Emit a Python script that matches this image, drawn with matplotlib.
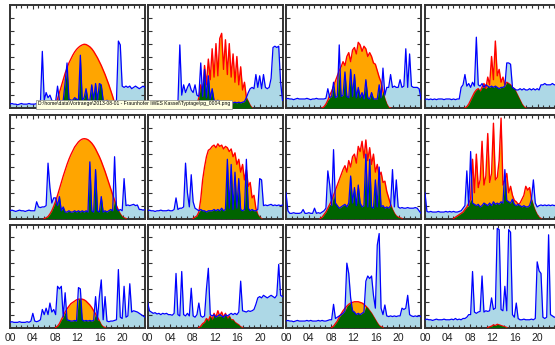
import matplotlib.pyplot as plt
import numpy as np

# time axis: 20-minute samples over one day
hours = np.linspace(0, 24, 72)
hour_ticks = [0, 4, 8, 12, 16, 20]
hour_labels = ["00", "04", "08", "12", "16", "20"]
tooltip = r"D:\home\data\Vortraege\2013-08-01 - Fraunhofer IWES Kassel\Typtage\pg_0004.png"

# household load (blue) and PV generation (orange) per day, arbitrary units 0..8
load_1 = [0.30, 0.35, 0.30, 0.30, 0.25, 0.30, 0.35, 0.30, 0.30, 0.30, 0.35, 0.30,
          0.30, 0.30, 0.35, 0.30, 0.40, 4.40, 0.60, 1.20, 0.80, 1.00, 0.60, 0.50,
          0.50, 1.70, 0.60, 0.50, 0.60, 2.00, 3.50, 0.70, 0.60, 0.60, 0.80, 0.70,
          0.60, 4.10, 0.60, 0.80, 1.50, 0.60, 0.60, 1.80, 0.60, 1.90, 0.60, 1.90,
          1.80, 0.60, 0.50, 0.60, 0.50, 0.50, 0.50, 0.50, 0.60, 5.20, 4.90, 1.70,
          1.60, 1.70, 1.60, 1.70, 1.50, 1.60, 1.70, 1.60, 1.50, 1.60, 1.70, 1.60]
pv_1 = [0, 0, 0, 0, 0, 0, 0, 0, 0, 0, 0, 0,
        0, 0, 0, 0, 0, 0, 0, 0, 0, 0, 0, 0.10,
        0.30, 0.70, 1.20, 1.70, 2.20, 2.70, 3.10, 3.50, 3.80, 4.10, 4.35, 4.55,
        4.70, 4.82, 4.90, 4.95, 4.93, 4.85, 4.75, 4.60, 4.40, 4.15, 3.90, 3.60,
        3.30, 2.95, 2.60, 2.20, 1.80, 1.35, 0.90, 0.40, 0.05, 0, 0, 0,
        0, 0, 0, 0, 0, 0, 0, 0, 0, 0, 0, 0]

load_2 = [0.40, 0.45, 0.40, 0.35, 0.40, 0.45, 0.40, 0.40, 0.35, 0.40, 0.45, 0.40,
          0.40, 0.35, 0.40, 0.45, 0.40, 4.90, 1.00, 1.80, 1.20, 1.60, 1.90, 1.40,
          1.20, 1.80, 1.00, 0.90, 3.50, 0.90, 3.00, 0.80, 2.50, 0.70, 1.50, 0.60,
          0.50, 0.60, 0.50, 0.45, 0.50, 0.40, 0.45, 0.40, 0.45, 0.40, 0.45, 0.40,
          0.45, 0.40, 0.45, 0.50, 0.80, 1.20, 1.50, 1.60, 1.50, 2.60, 1.60, 2.50,
          1.50, 2.60, 1.60, 1.50, 1.60, 2.30, 4.70, 4.80, 4.70, 4.80, 2.00, 0.60]
pv_2 = [0, 0, 0, 0, 0, 0, 0, 0, 0, 0, 0, 0,
        0, 0, 0, 0, 0, 0, 0, 0, 0, 0, 0, 0,
        0, 0.10, 0.30, 0.80, 1.80, 1.00, 3.30, 1.80, 3.80, 2.20, 4.60, 2.40,
        5.00, 2.50, 5.40, 5.80, 3.00, 5.30, 2.60, 5.00, 2.40, 4.20, 2.00, 4.00,
        1.80, 3.20, 1.40, 2.00, 0.80, 0.50, 0.20, 0, 0, 0, 0, 0,
        0, 0, 0, 0, 0, 0, 0, 0, 0, 0, 0, 0]

load_3 = [0.70, 0.75, 0.70, 0.70, 0.65, 0.70, 0.75, 0.70, 0.70, 0.70, 0.70, 0.75,
          0.70, 0.65, 0.70, 0.70, 0.75, 0.70, 0.70, 0.70, 0.70, 0.75, 1.50, 0.80,
          0.90, 2.00, 0.80, 0.90, 4.90, 0.90, 1.00, 2.80, 0.90, 0.80, 3.00, 0.90,
          2.60, 0.80, 1.60, 0.80, 1.20, 0.70, 2.20, 0.80, 0.70, 1.20, 0.70, 0.70,
          0.70, 1.80, 0.80, 3.10, 1.00, 1.60, 1.60, 2.60, 1.60, 1.70, 1.60, 1.60,
          2.20, 1.60, 1.70, 4.60, 1.60, 4.20, 1.70, 1.60, 1.60, 1.60, 1.50, 0.70]
pv_3 = [0, 0, 0, 0, 0, 0, 0, 0, 0, 0, 0, 0,
        0, 0, 0, 0, 0, 0, 0, 0, 0.10, 0.30, 0.60, 1.00,
        1.30, 1.70, 2.10, 2.50, 2.90, 3.20, 3.60, 3.30, 4.00, 4.30, 3.60, 4.50,
        4.70, 4.20, 5.10, 4.90, 4.40, 4.80, 4.60, 4.00, 4.30, 4.00, 3.50, 3.40,
        2.90, 2.40, 2.00, 1.30, 0.70, 0.30, 0.05, 0, 0, 0, 0, 0,
        0, 0, 0, 0, 0, 0, 0, 0, 0, 0, 0, 0]

load_4 = [0.65, 0.70, 0.65, 0.70, 0.65, 0.70, 0.65, 0.70, 0.70, 0.70, 0.65, 0.70,
          0.70, 0.70, 0.65, 0.70, 0.65, 0.70, 0.70, 1.60, 1.80, 2.60, 1.70, 1.90,
          1.60, 2.00, 1.70, 5.50, 1.80, 1.70, 1.90, 1.60, 1.80, 1.70, 1.60, 1.70,
          1.60, 1.70, 1.60, 1.50, 1.60, 1.60, 1.70, 3.50, 3.50, 3.40, 1.60, 1.50,
          1.40, 1.40, 1.50, 1.40, 1.50, 1.40, 1.40, 1.50, 1.40, 1.50, 1.40, 1.50,
          1.40, 1.80, 1.80, 1.90, 1.80, 1.80, 1.80, 1.90, 1.80, 1.80, 2.20, 1.90]
pv_4 = [0, 0, 0, 0, 0, 0, 0, 0, 0, 0, 0, 0,
        0, 0, 0, 0, 0, 0, 0, 0, 0, 0, 0.10, 0.30,
        0.60, 0.90, 1.20, 1.40, 1.50, 1.30, 1.60, 1.90, 1.50, 2.40, 1.80, 4.00,
        2.20, 5.20, 2.50, 3.00, 2.00, 2.40, 1.80, 2.00, 1.90, 1.80, 1.60, 1.50,
        1.20, 0.90, 0.60, 0.30, 0.10, 0, 0, 0, 0, 0, 0, 0,
        0, 0, 0, 0, 0, 0, 0, 0, 0, 0, 0, 0]

load_5 = [0.60, 0.65, 0.60, 0.55, 0.60, 0.65, 0.60, 0.60, 0.55, 0.60, 0.65, 0.60,
          0.60, 0.60, 1.30, 0.90, 0.85, 0.90, 0.90, 1.00, 4.30, 2.40, 1.20, 1.60,
          1.60, 1.00, 1.70, 0.60, 0.90, 0.50, 0.50, 0.60, 0.50, 0.50, 0.60, 0.50,
          0.60, 0.50, 0.60, 0.50, 0.60, 0.50, 4.40, 0.60, 0.50, 3.80, 0.60, 0.50,
          1.70, 0.50, 0.60, 0.50, 0.60, 0.70, 0.60, 4.80, 0.80, 0.60, 0.70, 0.60,
          3.10, 1.00, 1.05, 1.00, 1.05, 1.10, 1.00, 1.05, 0.70, 0.70, 0.65, 0.70]
pv_5 = [0, 0, 0, 0, 0, 0, 0, 0, 0, 0, 0, 0,
        0, 0, 0, 0, 0, 0, 0, 0.05, 0.15, 0.35, 0.60, 0.95,
        1.35, 1.80, 2.30, 2.80, 3.30, 3.75, 4.20, 4.60, 4.95, 5.25, 5.55, 5.75,
        5.95, 6.08, 6.17, 6.20, 6.18, 6.12, 6.00, 5.85, 5.65, 5.40, 5.10, 4.80,
        4.45, 4.05, 3.65, 3.20, 2.75, 2.30, 1.85, 1.40, 1.00, 0.65, 0.35, 0.15,
        0.05, 0, 0, 0, 0, 0, 0, 0, 0, 0, 0, 0]

load_6 = [0.60, 0.65, 0.60, 0.60, 0.55, 0.60, 0.60, 0.65, 0.60, 0.60, 0.60, 0.65,
          0.60, 0.60, 0.70, 1.60, 0.70, 0.80, 0.80, 0.90, 4.30, 2.00, 0.90, 3.40,
          1.30, 0.80, 0.70, 0.60, 0.70, 0.60, 0.60, 0.50, 0.60, 0.60, 0.60, 0.70,
          0.60, 0.70, 0.60, 0.80, 0.60, 0.70, 4.60, 0.80, 4.20, 0.70, 3.60, 0.80,
          3.10, 0.70, 0.60, 0.70, 4.60, 0.80, 0.60, 0.70, 0.60, 0.60, 0.70, 3.10,
          3.00, 1.00, 1.05, 1.00, 1.05, 1.10, 1.00, 1.05, 1.00, 1.05, 1.00, 1.05]
pv_6 = [0, 0, 0, 0, 0, 0, 0, 0, 0, 0, 0, 0,
        0, 0, 0, 0, 0, 0, 0, 0, 0, 0, 0, 0,
        0, 0.10, 0.20, 0.50, 1.50, 3.00, 4.00, 4.80, 5.30, 5.40, 5.60, 5.70,
        5.50, 5.80, 5.60, 5.70, 5.40, 5.60, 5.50, 5.20, 5.40, 4.80, 5.10, 4.20,
        4.60, 3.60, 4.20, 3.00, 3.80, 2.50, 2.80, 1.60, 1.80, 0.80, 0.30, 0.10,
        0, 0, 0, 0, 0, 0, 0, 0, 0, 0, 0, 0]

load_7 = [2.00, 0.60, 0.40, 0.40, 0.45, 0.40, 0.40, 0.40, 0.45, 0.70, 0.40, 0.40,
          0.45, 0.40, 0.40, 0.80, 0.40, 0.45, 0.40, 0.50, 0.60, 0.80, 3.70, 2.60,
          1.00, 5.35, 1.20, 1.00, 0.80, 0.90, 1.00, 1.10, 0.90, 1.20, 3.30, 1.20,
          2.40, 1.00, 2.60, 1.20, 0.90, 1.00, 5.00, 0.90, 4.60, 0.90, 0.80, 3.00,
          0.90, 4.00, 0.90, 1.00, 0.80, 0.90, 0.80, 1.00, 3.80, 0.90, 3.00, 0.90,
          0.80, 0.85, 0.80, 0.80, 0.85, 0.80, 0.80, 0.80, 0.85, 0.80, 0.60, 0.40]
pv_7 = [0, 0, 0, 0, 0, 0, 0, 0, 0, 0, 0, 0,
        0, 0, 0, 0, 0, 0, 0, 0.10, 0.30, 0.50, 0.80, 1.10,
        1.40, 1.80, 2.20, 2.60, 3.00, 3.40, 3.80, 4.10, 3.60, 4.50, 4.00, 4.80,
        5.00, 4.30, 5.60, 5.20, 6.00, 4.70, 6.10, 4.50, 5.50, 4.20, 5.00, 3.60,
        4.20, 3.30, 3.60, 2.80, 2.90, 2.10, 1.60, 1.10, 0.70, 0.40, 0.20, 0.10,
        0.05, 0, 0, 0, 0, 0, 0, 0, 0, 0, 0, 0]

load_8 = [2.00, 0.55, 0.50, 0.55, 0.50, 0.50, 0.50, 0.55, 0.50, 0.50, 0.50, 0.55,
          0.50, 0.55, 0.50, 0.55, 0.50, 0.50, 0.55, 0.60, 0.80, 1.00, 3.70, 1.00,
          5.20, 1.20, 1.10, 1.00, 1.10, 0.90, 1.00, 1.20, 1.10, 1.00, 1.20, 1.00,
          1.30, 1.10, 1.20, 1.10, 1.30, 1.20, 3.80, 1.40, 1.30, 1.20, 1.50, 1.10,
          1.00, 1.10, 1.00, 0.90, 1.00, 0.90, 0.90, 1.00, 1.50, 3.00, 1.20, 0.90,
          1.00, 1.05, 1.00, 1.05, 1.00, 1.05, 1.00, 1.05, 1.00, 1.05, 1.00, 1.00]
pv_8 = [0, 0, 0, 0, 0, 0, 0, 0, 0, 0, 0, 0,
        0, 0, 0, 0, 0.10, 0.20, 0.30, 0.40, 0.50, 0.70, 0.90, 1.20,
        1.50, 4.60, 2.00, 5.00, 2.40, 3.00, 6.00, 2.60, 3.30, 6.60, 2.80, 3.50,
        7.40, 3.00, 3.20, 4.50, 7.80, 2.60, 3.00, 3.50, 2.00, 2.50, 1.80, 1.40,
        1.30, 1.10, 1.20, 1.50, 1.80, 2.50, 2.20, 2.40, 1.50, 1.00, 0.60, 0.30,
        0.10, 0, 0, 0, 0, 0, 0, 0, 0, 0, 0, 0]

load_9 = [0.40, 0.45, 0.40, 0.40, 0.40, 0.45, 0.40, 0.40, 0.40, 0.45, 0.40, 0.50,
          1.10, 0.50, 0.45, 0.50, 0.60, 1.40, 1.00, 1.50, 1.00, 1.90, 1.20, 1.40,
          1.00, 3.20, 3.00, 3.20, 0.80, 2.70, 0.60, 0.55, 0.50, 0.50, 0.55, 0.50,
          3.10, 3.00, 0.60, 0.50, 0.55, 0.50, 0.55, 0.50, 0.55, 2.40, 0.60, 2.40,
          3.70, 0.60, 2.40, 0.50, 0.45, 0.50, 0.50, 0.55, 0.60, 4.50, 0.80, 0.70,
          3.20, 0.80, 0.90, 3.40, 1.20, 1.30, 1.25, 1.20, 1.10, 1.00, 0.90, 0.80]
pv_9 = [0, 0, 0, 0, 0, 0, 0, 0, 0, 0, 0, 0,
        0, 0, 0, 0, 0, 0, 0, 0, 0, 0, 0, 0,
        0, 0.10, 0.30, 0.60, 0.90, 1.20, 1.45, 1.65, 1.85, 1.95, 2.05, 2.15,
        2.20, 2.20, 2.20, 2.15, 2.05, 1.90, 1.75, 1.55, 1.30, 1.05, 0.80, 0.50,
        0.20, 0.05, 0, 0, 0, 0, 0, 0, 0, 0, 0, 0,
        0, 0, 0, 0, 0, 0, 0, 0, 0, 0, 0, 0]

load_10 = [2.00, 1.30, 1.20, 1.10, 1.15, 1.05, 1.10, 1.00, 1.10, 1.05, 1.10, 1.00,
           1.00, 0.95, 1.10, 4.20, 1.00, 0.90, 4.35, 1.00, 0.90, 1.10, 0.90, 3.05,
           0.90, 0.80, 1.00, 1.90, 0.90, 0.80, 0.90, 3.00, 4.60, 1.00, 0.90, 1.00,
           0.80, 0.90, 1.00, 0.90, 0.80, 1.00, 0.90, 1.00, 1.10, 1.00, 1.10, 1.00,
           1.20, 3.60, 1.30, 1.25, 1.20, 1.30, 1.25, 1.30, 1.40, 1.80, 2.30, 2.40,
           2.30, 2.50, 2.40, 2.30, 2.40, 2.50, 2.40, 2.30, 2.50, 4.90, 2.50, 2.40]
pv_10 = [0, 0, 0, 0, 0, 0, 0, 0, 0, 0, 0, 0,
         0, 0, 0, 0, 0, 0, 0, 0, 0, 0, 0, 0,
         0, 0, 0, 0, 0.10, 0.30, 0.40, 0.70, 0.50, 0.90, 0.60, 1.10,
         0.80, 1.30, 0.90, 1.20, 0.80, 1.10, 0.70, 0.90, 0.60, 0.60, 0.40, 0.30,
         0.20, 0.05, 0, 0, 0, 0, 0, 0, 0, 0, 0, 0,
         0, 0, 0, 0, 0, 0, 0, 0, 0, 0, 0, 0]

load_11 = [0.50, 0.55, 0.50, 0.50, 0.45, 0.50, 0.55, 0.50, 0.50, 0.50, 0.50, 0.55,
           0.50, 0.55, 0.50, 0.50, 0.50, 0.55, 0.50, 0.55, 0.50, 0.50, 0.55, 0.60,
           0.60, 1.80, 0.70, 0.80, 0.90, 1.00, 1.10, 1.30, 5.00, 4.20, 2.30, 1.30,
           1.20, 1.00, 1.10, 1.00, 1.10, 1.20, 3.60, 4.00, 3.80, 4.00, 2.50, 1.50,
           6.40, 7.30, 1.50, 1.00, 1.75, 0.90, 0.85, 0.90, 0.85, 0.90, 0.85, 0.90,
           0.90, 1.50, 1.40, 1.50, 2.50, 1.00, 0.90, 0.85, 0.90, 0.85, 0.90, 0.85]
pv_11 = [0, 0, 0, 0, 0, 0, 0, 0, 0, 0, 0, 0,
         0, 0, 0, 0, 0, 0, 0, 0, 0, 0, 0, 0,
         0, 0.10, 0.30, 0.50, 0.80, 1.05, 1.30, 1.50, 1.65, 1.80, 1.90, 1.95,
         2.00, 2.00, 2.00, 1.95, 1.90, 1.80, 1.65, 1.50, 1.30, 1.10, 0.85, 0.60,
         0.35, 0.15, 0.05, 0, 0, 0, 0, 0, 0, 0, 0, 0,
         0, 0, 0, 0, 0, 0, 0, 0, 0, 0, 0, 0]

load_12 = [0.60, 0.65, 0.60, 0.60, 0.55, 0.60, 0.65, 0.60, 0.60, 0.60, 0.65, 0.60,
           0.60, 0.60, 0.65, 0.60, 0.70, 0.60, 0.65, 0.60, 0.70, 0.70, 0.80, 1.00,
           1.00, 4.35, 1.20, 1.10, 1.20, 1.25, 4.00, 1.20, 1.30, 1.25, 1.30, 2.30,
           1.40, 1.50, 7.70, 7.60, 1.40, 1.30, 3.20, 1.30, 7.60, 7.40, 1.00, 0.80,
           1.90, 0.70, 0.60, 0.60, 0.65, 0.60, 0.60, 0.60, 0.65, 0.60, 0.70, 5.10,
           4.40, 4.20, 0.80, 0.70, 0.80, 7.20, 1.00, 0.90, 0.80, 0.80, 0.90, 0.80]
pv_12 = [0, 0, 0, 0, 0, 0, 0, 0, 0, 0, 0, 0,
         0, 0, 0, 0, 0, 0, 0, 0, 0, 0, 0, 0,
         0, 0, 0, 0, 0, 0, 0, 0, 0, 0, 0.05, 0.10,
         0.20, 0.15, 0.25, 0.20, 0.15, 0.10, 0.05, 0, 0, 0, 0, 0,
         0, 0, 0, 0, 0, 0, 0, 0, 0, 0, 0, 0,
         0, 0, 0, 0, 0, 0, 0, 0, 0, 0, 0, 0]

loads = [load_1, load_2, load_3, load_4, load_5, load_6,
         load_7, load_8, load_9, load_10, load_11, load_12]
pvs = [pv_1, pv_2, pv_3, pv_4, pv_5, pv_6,
       pv_7, pv_8, pv_9, pv_10, pv_11, pv_12]

W, H = 555, 345
fig = plt.figure(figsize=(W / 100, H / 100), dpi=100)
col_left = [10, 147.5, 286, 425]
row_top = [5, 115.5, 224.5]
pw, ph = 135, 103

for k in range(12):
    r, c = divmod(k, 4)
    ax = fig.add_axes([col_left[c] / W, 1 - (row_top[r] + ph) / H, pw / W, ph / H])
    load = np.array(loads[k])
    pv = np.array(pvs[k])
    own = np.minimum(load, pv)
    # only draw the red outline where there is generation
    near = (pv > 0) | (np.roll(pv, 1) > 0) | (np.roll(pv, -1) > 0)
    pv_line = np.where(near, pv, np.nan)

    ax.fill_between(hours, 0, load, color="#add8e6", lw=0, zorder=1)
    ax.fill_between(hours, 0, pv, color="#ffa500", lw=0, zorder=2)
    ax.plot(hours, pv_line, color="red", lw=1.0, zorder=3)
    ax.fill_between(hours, 0, own, color="#006400", lw=0, zorder=4)
    ax.plot(hours, load, color="#0000ff", lw=0.9, zorder=5)

    ax.set_xlim(0, 24)
    ax.set_ylim(0, 8)
    ax.set_xticks(hour_ticks)
    ax.set_xticks(range(25), minor=True)
    ax.set_yticks(range(1, 8))
    ax.set_yticklabels([])
    if r == 2:
        ax.set_xticklabels(hour_labels, fontsize=7.5, family="Liberation Sans", color="#222222")
    else:
        ax.set_xticklabels([])
    ax.tick_params(which="both", direction="in", top=True, right=True, color="#333333", width=0.8, pad=4)
    ax.tick_params(which="major", length=3)
    ax.tick_params(which="minor", length=2)
    for s in ax.spines.values():
        s.set_color("#333333")
        s.set_linewidth(1.4)

fig.text(38 / W, 1 - 104 / H, tooltip, fontsize=3.6, family="Liberation Sans",
         ha="left", va="center", zorder=10,
         bbox=dict(boxstyle="square,pad=0.4", fc="#ffffe1", ec="#888888", lw=0.5))

fig.savefig("out.png", dpi=100)
